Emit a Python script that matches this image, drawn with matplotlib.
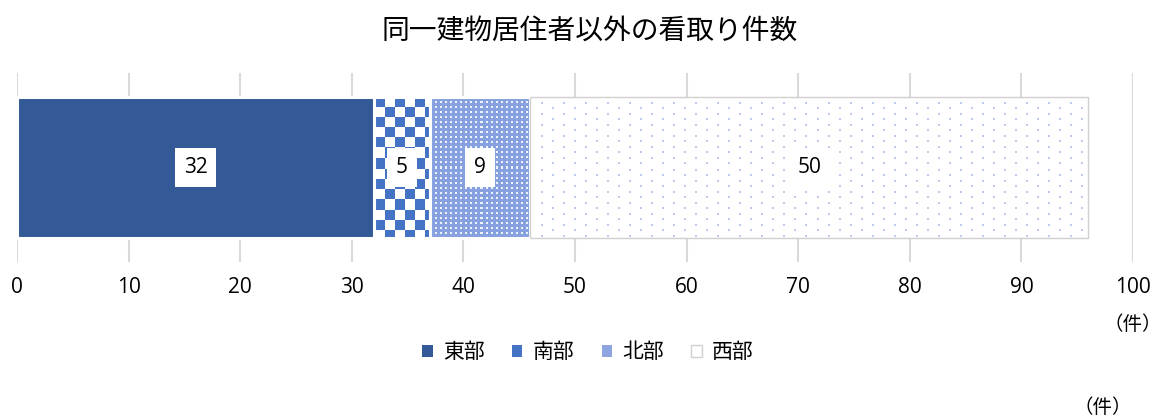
import numpy as np
import matplotlib
matplotlib.use("Agg")
import matplotlib.pyplot as plt
from matplotlib.patches import Patch

plt.rcParams["font.family"] = ["Noto Sans CJK JP", "DejaVu Sans"]

title = "同一建物居住者以外の看取り件数"
regions = ["東部", "南部", "北部", "西部"]
counts = [32, 5, 9, 50]
xticks = [0, 10, 20, 30, 40, 50, 60, 70, 80, 90, 100]
unit = "（件）"

DPI = 100
NUM_FONT = ["Open Sans", "DejaVu Sans"]
fig = plt.figure(figsize=(11.63, 4.19), dpi=DPI)
ax = fig.add_axes([17 / 1163, 157 / 419, 1116 / 1163, 189 / 419])
ax.set_xlim(0, 100)
ax.set_ylim(-0.67, 0.67)


def hexrgb(h):
    h = h.lstrip("#")
    return np.array([int(h[i:i + 2], 16) / 255 for i in (0, 2, 4)])


def texture(kind, w, h):
    """Motif pixel par pixel (w x h) pour remplir un segment."""
    yy, xx = np.mgrid[0:h, 0:w]
    img = np.ones((h, w, 3))
    if kind == "checker":
        c = 10.2
        mask = ((xx // c + yy // c) % 2) == 0
        img[mask] = hexrgb("#4472c4")
    elif kind == "dots":
        img[:] = hexrgb("#86a0e0")
        mask = ((xx % 5) < 2) & ((yy % 5) < 2)
        img[mask] = hexrgb("#eef2fb")
    elif kind == "sparse":
        row = np.floor(yy / 5.5).astype(int)
        ry = yy - row * 5.5
        off = np.where(row % 2 == 0, 0.0, 11.0)
        cx = (xx - off) % 22
        mask = (ry < 2) & (cx < 2)
        img[mask] = hexrgb("#bfcbee")
    return img


faces = ["#335a97", "none", "none", "none"]
edges = ["white", "white", "white", "#d0d0d0"]
widths = [2.2, 2.2, 2.2, 1.0]
kinds = [None, "checker", "dots", "sparse"]

lefts = np.concatenate([[0], np.cumsum(counts)[:-1]])
bars = ax.barh(0, counts, left=lefts, height=1.0, color=faces,
               edgecolor=edges, linewidth=widths, zorder=3)

ax_w = ax.get_position().width * fig.get_figwidth() * DPI
ax_h = ax.get_position().height * fig.get_figheight() * DPI
xr = ax.get_xlim()[1] - ax.get_xlim()[0]
yr = ax.get_ylim()[1] - ax.get_ylim()[0]

for bar, kind in zip(bars, kinds):
    if kind is None:
        continue
    x0, y0 = bar.get_x(), bar.get_y()
    w, h = bar.get_width(), bar.get_height()
    wpx = max(int(round(w / xr * ax_w)), 1)
    hpx = max(int(round(h / yr * ax_h)), 1)
    im = ax.imshow(texture(kind, wpx, hpx), extent=(x0, x0 + w, y0, y0 + h),
                   origin="upper", interpolation="nearest", aspect="auto",
                   zorder=2)
    im.set_clip_path(bar)

for bar, v in zip(bars, counts):
    ax.text(bar.get_x() + bar.get_width() / 2, 0, str(v), ha="center",
            va="center", fontsize=15, color="black", zorder=5,
            family=NUM_FONT,
            bbox=dict(boxstyle="square,pad=0.42", fc="white", ec="none"))

ax.set_xlim(0, 100)
ax.set_ylim(-0.67, 0.67)
ax.set_xticks(xticks)
ax.set_xticklabels([str(t) for t in xticks], fontsize=15, family=NUM_FONT)
ax.set_yticks([])
ax.tick_params(axis="x", length=0, pad=11)
ax.grid(axis="x", color="#d9d9d9", linewidth=1.5, zorder=0)
ax.set_axisbelow(True)
for s in ax.spines.values():
    s.set_visible(False)

fig.text(590 / 1163, 1 - 31 / 419, title, ha="center", va="center",
         fontsize=20)
fig.text(1162 / 1163, 1 - 324 / 419, unit, ha="right", va="center",
         fontsize=14)
fig.text(1103 / 1163, 1 - 407 / 419, unit, ha="center", va="center",
         fontsize=14)

handles = [
    Patch(facecolor="#335a97", edgecolor="none"),
    Patch(facecolor="#4472c4", edgecolor="none"),
    Patch(facecolor="#8fa5e0", edgecolor="none"),
    Patch(facecolor="white", edgecolor="#d0d0d0"),
]
fig.legend(handles, regions, loc="center",
           bbox_to_anchor=(588 / 1163, 1 - 352 / 419),
           ncol=4, frameon=False, fontsize=15, handlelength=0.5,
           handleheight=0.5, handletextpad=0.5, columnspacing=1.3)

fig.savefig("out.png", dpi=DPI)
